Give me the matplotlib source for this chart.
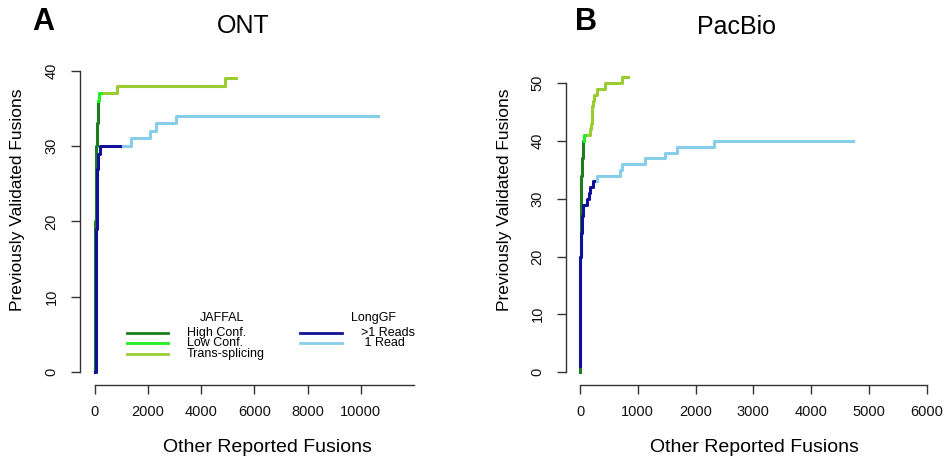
import numpy as np
import matplotlib.pyplot as plt
from matplotlib.lines import Line2D

plt.rcParams['font.family'] = ['Liberation Sans', 'DejaVu Sans']

# ONT (panel A) cumulative curves: x = other reported fusions, y = previously validated
ont_high_x = [0, 5, 15, 30, 50, 70, 95, 125]
ont_high_y = [0, 10, 20, 26, 30, 33, 35, 36]
ont_low_x = [125, 150, 350]
ont_low_y = [36, 37, 37]
ont_trans_x = [350, 816, 4890, 5300]
ont_trans_y = [37, 38, 39, 39]
ont_multi_x = [0, 20, 40, 63, 90, 125, 188, 1060]
ont_multi_y = [0, 10, 19, 25, 27, 29, 30, 30]
ont_one_x = [1060, 1340, 2070, 2300, 3050, 10650]
ont_one_y = [30, 31, 32, 33, 34, 34]

# PacBio (panel B)
pb_high_x = [0, 3, 6, 10, 20, 30, 45, 60, 70]
pb_high_y = [0, 12, 20, 28, 34, 37, 39, 40, 40]
pb_low_x = [70, 70, 144]
pb_low_y = [40, 41, 41]
pb_trans_x = [144, 170, 190, 202, 212, 222, 242, 288, 433, 722, 837]
pb_trans_y = [41, 42, 43, 44, 46, 47, 48, 49, 50, 51, 51]
pb_multi_x = [0, 3, 8, 15, 30, 58, 116, 150, 175, 230, 290]
pb_multi_y = [1, 10, 20, 24, 27, 29, 30, 31, 32, 33, 33]
pb_one_x = [290, 290, 690, 720, 1120, 1470, 1685, 2325, 4730]
pb_one_y = [33, 34, 35, 36, 37, 38, 39, 40, 40]

ont_xticks = [0, 2000, 4000, 6000, 8000, 10000]
ont_yticks = [0, 10, 20, 30, 40]
pb_xticks = [0, 1000, 2000, 3000, 4000, 5000, 6000]
pb_yticks = [0, 10, 20, 30, 40, 50]

c_high = "#1E7B1E"
c_low = "#22EE22"
c_trans = "#9ACD32"
c_multi = "#10109A"
c_one = "#87CEEB"

W, H = 946, 476
fig = plt.figure(figsize=(W / 100, H / 100), dpi=100)


def px_axes(l, r, t, b):
    return fig.add_axes([l / W, 1 - b / H, (r - l) / W, (b - t) / H])


def px(x, y):
    return x / W, 1 - y / H


def style_axes(ax, xticks, yticks, xbound, ybound):
    for s in ["top", "right"]:
        ax.spines[s].set_visible(False)
    ax.spines["left"].set_bounds(*ybound)
    ax.spines["bottom"].set_bounds(*xbound)
    for s in ["left", "bottom"]:
        ax.spines[s].set_color("#333333")
        ax.spines[s].set_linewidth(1)
    ax.set_xticks(xticks)
    ax.set_yticks(yticks)
    ax.tick_params(axis="both", length=6.5, width=1, color="#333333",
                   labelsize=10.5, labelcolor="#111111")
    ax.tick_params(axis="x", pad=8)
    ax.tick_params(axis="y", pad=9)
    for lab in ax.get_yticklabels():
        lab.set_rotation(90)
        lab.set_va("center")


lw = 2.2

# Panel A
axA = px_axes(80, 427, 60, 385)
axA.plot(ont_high_x, ont_high_y, drawstyle="steps-post", color=c_high, lw=lw)
axA.plot(ont_low_x, ont_low_y, drawstyle="steps-post", color=c_low, lw=lw)
axA.plot(ont_trans_x, ont_trans_y, drawstyle="steps-post", color=c_trans, lw=lw)
axA.plot(ont_multi_x, ont_multi_y, drawstyle="steps-post", color=c_multi, lw=lw)
axA.plot(ont_one_x, ont_one_y, drawstyle="steps-post", color=c_one, lw=lw)
axA.set_xlim(-564, 12489)
axA.set_ylim(-1.726, 41.42)
style_axes(axA, ont_xticks, ont_yticks, (0, 12000), (0, 40))

# Panel B
axB = px_axes(566, 941, 60, 385)
axB.plot(pb_high_x, pb_high_y, drawstyle="steps-post", color=c_high, lw=lw)
axB.plot(pb_low_x, pb_low_y, drawstyle="steps-post", color=c_low, lw=lw)
axB.plot(pb_trans_x, pb_trans_y, drawstyle="steps-post", color=c_trans, lw=lw)
axB.plot(pb_multi_x, pb_multi_y, drawstyle="steps-post", color=c_multi, lw=lw)
axB.plot(pb_one_x, pb_one_y, drawstyle="steps-post", color=c_one, lw=lw)
axB.set_xlim(-242.3, 6247.6)
axB.set_ylim(-2.25, 54.03)
style_axes(axB, pb_xticks, pb_yticks, (0, 6000), (0, 50))

# titles, panel letters, axis labels
fig.text(*px(243, 26), "ONT", fontsize=18, ha="center", va="center")
fig.text(*px(736, 27), "PacBio", fontsize=18, ha="center", va="center")
fig.text(*px(43, 22), "A", fontsize=22, fontweight="bold", ha="center", va="center")
fig.text(*px(586, 22), "B", fontsize=22, fontweight="bold", ha="center", va="center")
fig.text(*px(267, 447), "Other Reported Fusions", fontsize=14, ha="center", va="center")
fig.text(*px(754, 447), "Other Reported Fusions", fontsize=14, ha="center", va="center")
fig.text(*px(18, 200), "Previously Validated Fusions", fontsize=12.5,
         rotation=90, ha="center", va="center")
fig.text(*px(504, 200), "Previously Validated Fusions", fontsize=12.5,
         rotation=90, ha="center", va="center")

# legend (drawn by hand, R style)
leg_groups = [
    ("JAFFAL", 222, 127, 168, 187,
     ["High Conf.", "Low Conf.", "Trans-splicing"], [c_high, c_low, c_trans]),
    ("LongGF", 373, 300, 342, 361,
     [">1 Reads", " 1 Read"], [c_multi, c_one]),
]
for title, tx, lx0, lx1, textx, labels, colors in leg_groups:
    fig.text(*px(tx, 318), title, fontsize=9, ha="center", va="center")
    for i, (lab, col) in enumerate(zip(labels, colors)):
        yy = 333 + i * 10.3
        x0, y0 = px(lx0, yy)
        x1, _ = px(lx1, yy)
        fig.add_artist(Line2D([x0, x1], [y0, y0], color=col, lw=2,
                              transform=fig.transFigure))
        fig.text(*px(textx, yy), lab, fontsize=9, ha="left", va="center")

fig.savefig("out.png", dpi=100)
